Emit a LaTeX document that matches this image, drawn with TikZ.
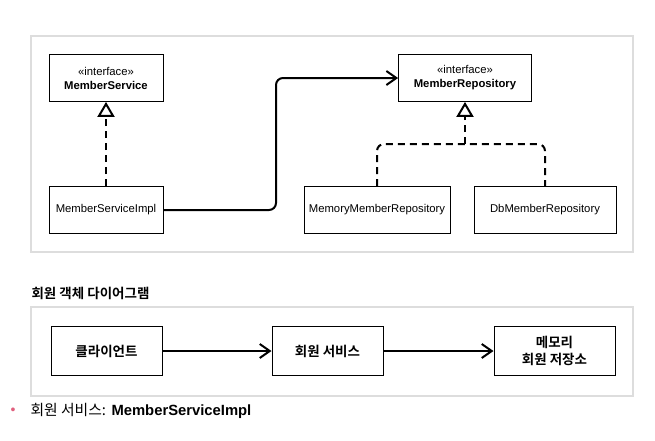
\documentclass[tikz,border=0pt]{standalone}
\usepackage{fontspec}
\setmainfont{Liberation Sans}
\newfontfamily\kr[BoldFont={Noto Sans CJK KR Bold}]{Noto Sans CJK KR}
\usetikzlibrary{arrows.meta}
\definecolor{framegray}{HTML}{DDDDDD}
\definecolor{bulletpink}{HTML}{E0607E}
\tikzset{
  cls/.style={draw=black, line width=0.8pt, fill=white, minimum height=47pt, align=center, inner sep=2pt, font=\fontsize{11.3}{14}\selectfont},
  krbox/.style={draw=black, line width=1pt, fill=white, minimum height=49pt, align=center, font=\kr\bfseries\fontsize{13.5}{17}\selectfont},
  frame/.style={draw=framegray, line width=1.3pt},
  realize/.style={line width=2pt, dash pattern=on 7pt off 5pt},
  assoc/.style={line width=2pt, -{Straight Barb[length=10pt,width=14pt]}},
  opentri/.style={-{Triangle[open,length=15pt,width=17pt]}}
}
\begin{document}
\begin{tikzpicture}[x=1pt,y=-1pt]
\useasboundingbox (0,0) rectangle (655,440);
% frames
\draw[frame] (31,36) rectangle (633,252);
\draw[frame] (31,307) rectangle (633,396);
% UML classes
\node[cls, minimum width=114pt] (ms) at (106,78) {«interface»\\\textbf{MemberService}};
\node[cls, minimum width=114pt] (msi) at (106,210) {MemberServiceImpl};
\node[cls, minimum width=133pt] (mr) at (465,78) {«interface»\\\textbf{MemberRepository}};
\node[cls, minimum width=146pt] (mmr) at (377,210) {MemoryMemberRepository};
\node[cls, minimum width=142pt] (dmr) at (545,210) {DbMemberRepository};
\coordinate (bx) at (276,140);
\coordinate (jn) at (465,144);
% connectors
\draw[realize, opentri] (msi.north) -- (ms.south);
\draw[assoc, rounded corners=7pt] (msi.east) -- (msi.east -| bx) -- (bx |- mr.west) -- (mr.west);
\draw[realize, rounded corners=7pt] (mmr.north) |- (jn) -| (dmr.north);
\draw[realize, opentri] (jn) -- (mr.south);
% object diagram
\node[anchor=west, font=\kr\bfseries\fontsize{13.5}{16}\selectfont] (title) at (28,293) {회원 객체 다이어그램};
\node[krbox, minimum width=111pt] (cl) at (106.5,351) {클라이언트};
\node[krbox, minimum width=111pt] (sv) at (327.5,351) {회원 서비스};
\node[krbox, minimum width=121pt] (mem) at (554.5,351) {메모리\\회원 저장소};
\draw[assoc] (cl.east) -- (sv.west);
\draw[assoc] (sv.east) -- (mem.west);
% bullet line
\node[text=bulletpink, font=\fontsize{14}{16}\selectfont] (bul) at (13,411) {•};
\node[anchor=west, font=\fontsize{14.8}{17}\selectfont] (note) at (27,411) {{\kr 회원 서비스:} \textbf{MemberServiceImpl}};
\end{tikzpicture}
\end{document}
